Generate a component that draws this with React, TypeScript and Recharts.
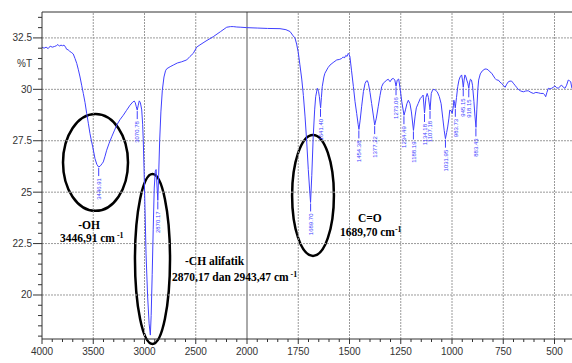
import React from 'react';
import { ComposedChart, Line, Scatter, XAxis, YAxis, ReferenceLine, ReferenceArea } from 'recharts';

const wavenumbers = [
  4000, 3980, 3960, 3940, 3920, 3900, 3880, 3860, 3845, 3830,
  3815, 3800, 3785, 3770, 3760, 3745, 3730, 3715, 3695, 3678,
  3661, 3645, 3629, 3613, 3597, 3580, 3564, 3548, 3532, 3518,
  3505, 3483, 3465, 3447, 3430, 3415, 3402, 3385, 3369, 3345,
  3320, 3295, 3271, 3240, 3207, 3175, 3141, 3115, 3100, 3090,
  3080, 3071, 3062, 3051, 3040, 3027, 3018, 3012, 3005, 2995,
  2985, 2970, 2955, 2943, 2935, 2925, 2915, 2905, 2895, 2887,
  2878, 2870, 2862, 2852, 2840, 2826, 2810, 2795, 2783, 2750,
  2719, 2680, 2637, 2588, 2556, 2524, 2491, 2459, 2400, 2329,
  2260, 2198, 2160, 2134, 2100, 2060, 2003, 1950, 1900, 1839,
  1810, 1790, 1775, 1766, 1758, 1750, 1742, 1733, 1725, 1717,
  1709, 1701, 1695, 1690, 1684, 1677, 1670, 1665, 1657, 1651,
  1647, 1641, 1637, 1633, 1625, 1620, 1605, 1595, 1580, 1562,
  1550, 1538, 1530, 1525, 1518, 1512, 1506, 1502, 1498, 1490,
  1481, 1473, 1465, 1458, 1454, 1448, 1441, 1432, 1424, 1418,
  1413, 1408, 1400, 1392, 1384, 1377, 1369, 1360, 1351, 1343,
  1335, 1327, 1318, 1311, 1302, 1294, 1286, 1279, 1273, 1267,
  1260, 1254, 1245, 1234, 1227, 1220, 1213, 1205, 1198, 1188,
  1180, 1174, 1165, 1155, 1147, 1141, 1134, 1127, 1121, 1115,
  1107, 1101, 1095, 1088, 1080, 1072, 1062, 1053, 1045, 1038,
  1032, 1026, 1021, 1015, 1011, 1004, 999, 993, 991, 987,
  984, 978, 972, 966, 960, 953, 949, 945, 941, 937,
  932, 928, 923, 918, 914, 910, 905, 900, 893, 888,
  883, 879, 874, 870, 862, 852, 839, 830, 823, 815,
  806, 798, 790, 782, 774, 766, 758, 750, 741, 733,
  725, 717, 709, 701, 693, 685, 677, 665, 652, 640,
  628, 615, 603, 591, 579, 567, 555, 549, 543, 537,
  530, 522, 514, 506, 498, 490, 481, 473, 465, 457,
  449, 441, 433, 427, 421, 415, 400,
];

const transmittance = [
  32.05, 32.0, 32.05, 31.98, 32.1, 32.05, 32.08, 32.12, 32.18, 32.1,
  32.15, 32.12, 32.15, 32.05, 31.95, 31.92, 31.85, 31.8, 31.72, 31.5,
  31.26, 30.95, 30.6, 30.2, 29.8, 29.35, 28.83, 28.35, 27.85, 27.5,
  27.2, 26.63, 26.35, 26.22, 26.28, 26.38, 26.47, 26.75, 27.04, 27.38,
  27.69, 27.98, 28.26, 28.52, 28.74, 28.98, 29.23, 29.38, 29.43, 29.35,
  29.15, 28.99, 29.2, 29.44, 29.35, 29.0, 28.3, 27.52, 26.2, 24.2,
  22.0, 20.0, 18.6, 18.05, 19.0, 21.0, 23.2, 25.2, 26.0, 26.1,
  25.3, 24.6, 25.8, 27.5, 28.9, 29.96, 30.6, 30.9, 31.0, 31.1,
  31.18, 31.28, 31.34, 31.43, 31.6, 31.75, 32.05, 32.16, 32.35, 32.56,
  32.8, 33.02, 33.05, 33.05, 33.03, 33.02, 33.0, 32.98, 32.96, 32.95,
  32.9, 32.81, 32.6, 32.5, 32.2, 31.8, 31.2, 30.5, 29.7, 28.7,
  27.5, 26.1, 25.2, 24.5, 25.8, 27.69, 29.0, 29.64, 30.05, 29.9,
  29.64, 29.1, 29.6, 30.13, 30.6, 30.78, 31.05, 31.18, 31.3, 31.43,
  31.45, 31.5, 31.58, 31.52, 31.65, 31.6, 31.75, 31.7, 31.59, 30.9,
  30.13, 29.4, 28.83, 28.3, 28.05, 28.5, 29.15, 29.9, 30.29, 30.4,
  30.42, 30.29, 29.85, 29.31, 28.75, 28.26, 28.6, 29.15, 29.7, 30.13,
  30.3, 30.37, 30.45, 30.49, 30.37, 30.5, 30.53, 30.45, 30.15, 30.45,
  30.5, 30.1, 29.4, 28.74, 29.0, 29.3, 29.47, 29.3, 28.9, 28.0,
  28.7, 29.1, 29.31, 29.55, 29.64, 29.72, 28.85, 29.6, 29.8, 29.6,
  29.0, 29.8, 29.96, 30.0, 29.95, 29.88, 29.65, 29.3, 28.6, 28.0,
  27.6, 27.9, 28.17, 28.6, 28.99, 28.95, 28.83, 29.2, 29.47, 29.3,
  29.1, 29.6, 30.13, 30.45, 30.61, 30.7, 30.45, 30.1, 30.45, 30.7,
  30.6, 30.45, 30.3, 30.05, 30.35, 30.49, 30.45, 30.2, 29.4, 28.7,
  28.15, 29.0, 30.0, 30.45, 30.75, 30.9, 30.99, 30.98, 30.94, 30.85,
  30.78, 30.65, 30.53, 30.45, 30.45, 30.35, 30.29, 30.2, 30.1, 30.25,
  30.37, 30.4, 30.4, 30.3, 30.2, 30.1, 30.0, 29.92, 29.88, 29.92,
  29.93, 29.85, 29.8, 29.85, 29.83, 29.8, 29.8, 29.75, 29.64, 29.85,
  30.05, 30.02, 30.05, 30.1, 30.17, 30.08, 30.05, 30.15, 30.2, 30.1,
  30.05, 30.2, 30.45, 30.42, 30.37, 30.05, 30.0,
];

const peakLabels = ['3446.91', '3070.78', '2870.17', '1689.70', '1641.40', '1454.38', '1377.22', '1273.06', '1234.49', '1188.19', '1134.18', '1107.18', '1031.95', '983.73', '945.15', '918.15', '883.43'];
const peakWavenumbers = [3446.91, 3070.78, 2870.17, 1689.7, 1641.4, 1454.38, 1377.22, 1273.06, 1234.49, 1188.19, 1134.18, 1107.18, 1031.95, 983.73, 945.15, 918.15, 883.43];
const peakTransmittance = [26.22, 28.99, 24.6, 24.5, 29.1, 28.05, 28.26, 30.15, 28.74, 28.0, 28.85, 29.0, 27.6, 29.1, 30.1, 30.05, 28.15];

// annotation ellipses: [wnLeft, wnRight, tBottom, tTop]
const ellipseOH = [3795, 3161, 24.09, 28.8];
const ellipseCH = [3093, 2751, 17.62, 25.88];
const ellipseCO = [1780, 1576, 21.9, 27.78];

const xTickWavenumbers = [4000, 3500, 3000, 2500, 2000, 1750, 1500, 1250, 1000, 750, 500];
const yTickValues = [20, 22.5, 25, 27.5, 30, 32.5];

const Y_MIN = 17.86;
const Y_MAX = 33.76;

// axis scale changes at 2000 cm-1 (double expansion below)
const toPos = (wn: number) => (wn >= 2000 ? 4000 - wn : 2000 + 2 * (2000 - wn));
const toWn = (pos: number) => (pos <= 2000 ? 4000 - pos : 2000 - (pos - 2000) / 2);

const chartData = wavenumbers.map((w, i) => ({ pos: toPos(w), t: transmittance[i] }));
const peakData = peakWavenumbers.map((w, i) => ({ pos: toPos(w), t: peakTransmittance[i], label: peakLabels[i] }));

const majorXPos = xTickWavenumbers.map(toPos);
const minorXPos = Array.from({ length: 53 }, (_, i) => i * 100);
const minorY = Array.from({ length: 32 }, (_, i) => 18 + i * 0.5);

const BLUE = '#4040ff';
const AX = '#333';
const SANS = '"Liberation Sans", Arial, sans-serif';
const SERIF = '"Liberation Serif", "Times New Roman", serif';

const XTick = (props: any) => {
  const { x, y, payload } = props;
  const v = payload.value;
  const major = majorXPos.includes(v);
  return (
    <g>
      <line x1={x} x2={x} y1={y} y2={y + (major ? 5 : 3)} stroke={AX} strokeWidth={1} />
      {major && (
        <text x={x} y={y + 15.5} textAnchor="middle" fontSize={10} fill={AX} fontFamily={SANS}>
          {String(Math.round(toWn(v)))}
        </text>
      )}
    </g>
  );
};

const YTick = (props: any) => {
  const { x, y, payload } = props;
  const v = payload.value;
  const major = yTickValues.some((m) => Math.abs(m - v) < 1e-6);
  return (
    <g>
      <line x1={x} x2={x - (major ? 9 : 4)} y1={y} y2={y} stroke={AX} strokeWidth={1} />
      {major && (
        <text x={x - 10} y={y + 3.5} textAnchor="end" fontSize={10} fill={AX} fontFamily={SANS}>
          {String(v)}
        </text>
      )}
    </g>
  );
};

const PeakMark = (props: any) => {
  const { cx, cy, payload } = props;
  if (cx == null || cy == null) return <g />;
  return (
    <g>
      <line x1={cx} x2={cx} y1={cy + 1} y2={cy + 9} stroke={BLUE} strokeWidth={1} />
      <text
        x={cx}
        y={cy + 11}
        transform={`rotate(-90 ${cx} ${cy + 11})`}
        textAnchor="end"
        dy={2.2}
        fontSize={6}
        fill={BLUE}
        fontFamily={SANS}
      >
        {payload.label}
      </text>
    </g>
  );
};

const ellipseShape = (p: any) => {
  const { x, y, width, height } = p;
  if (x == null) return <g />;
  return (
    <ellipse
      cx={x + width / 2}
      cy={y + height / 2}
      rx={Math.abs(width) / 2}
      ry={Math.abs(height) / 2}
      fill="none"
      stroke="#000"
      strokeWidth={2.5}
    />
  );
};

export default function App() {
  return (
    <div style={{ position: 'fixed', left: 0, top: 0, width: 572, height: 363, overflow: 'hidden', background: '#fff' }}>
      <ComposedChart width={600} height={363} data={chartData} margin={{ top: 12, right: 25, bottom: 4, left: 12 }}>
        <XAxis
          type="number"
          dataKey="pos"
          domain={[0, 5200]}
          ticks={minorXPos}
          interval={0}
          tickSize={0}
          tickMargin={0}
          tickLine={false}
          tick={<XTick />}
          height={20}
          axisLine={{ stroke: AX }}
          allowDataOverflow
        />
        <YAxis
          type="number"
          dataKey="t"
          domain={[Y_MIN, Y_MAX]}
          ticks={minorY}
          interval={0}
          tickSize={0}
          tickMargin={0}
          tickLine={false}
          tick={<YTick />}
          width={30}
          axisLine={{ stroke: AX }}
          allowDataOverflow
        />
        {majorXPos.filter((p) => p !== 0 && p !== 2000).map((p) => (
          <ReferenceLine key={'vx' + p} x={p} stroke="#9a9a9a" strokeDasharray="2 1" />
        ))}
        <ReferenceLine x={2000} stroke="#555" />
        {yTickValues.map((v) => (
          <ReferenceLine key={'hy' + v} y={v} stroke="#9a9a9a" strokeDasharray="2 1" />
        ))}
        <ReferenceLine y={Y_MAX} stroke={AX} />
        <Line
          type="linear"
          dataKey="t"
          stroke={BLUE}
          strokeWidth={1}
          dot={false}
          isAnimationActive={false}
        />
        <Scatter data={peakData} dataKey="t" isAnimationActive={false} shape={<PeakMark />} />
        {[ellipseOH, ellipseCH, ellipseCO].map((e, i) => (
          <ReferenceArea
            key={'el' + i}
            x1={toPos(e[0])}
            x2={toPos(e[1])}
            y1={e[2]}
            y2={e[3]}
            ifOverflow="visible"
            shape={ellipseShape}
          />
        ))}
      </ComposedChart>
      <svg width={572} height={363} style={{ position: 'absolute', left: 0, top: 0, pointerEvents: 'none' }}>
        <text x={32} y={67} textAnchor="end" fontSize={10} fill={AX} fontFamily={SANS}>%T</text>
        <g fontFamily={SERIF} fontWeight="bold" fontSize={11.5} fill="#000">
          <text x={89} y={229} textAnchor="middle">-OH</text>
          <text x={60} y={242}>3446,91 cm<tspan fontSize={8} dy={-4}> -1</tspan></text>
          <text x={185} y={265}>-CH alifatik</text>
          <text x={172} y={281}>2870,17 dan 2943,47 cm<tspan fontSize={8} dy={-4}> -1</tspan></text>
          <text x={358} y={222}>C=O</text>
          <text x={340} y={236}>1689,70 cm<tspan fontSize={8} dy={-4}>-1</tspan></text>
        </g>
      </svg>
    </div>
  );
}
